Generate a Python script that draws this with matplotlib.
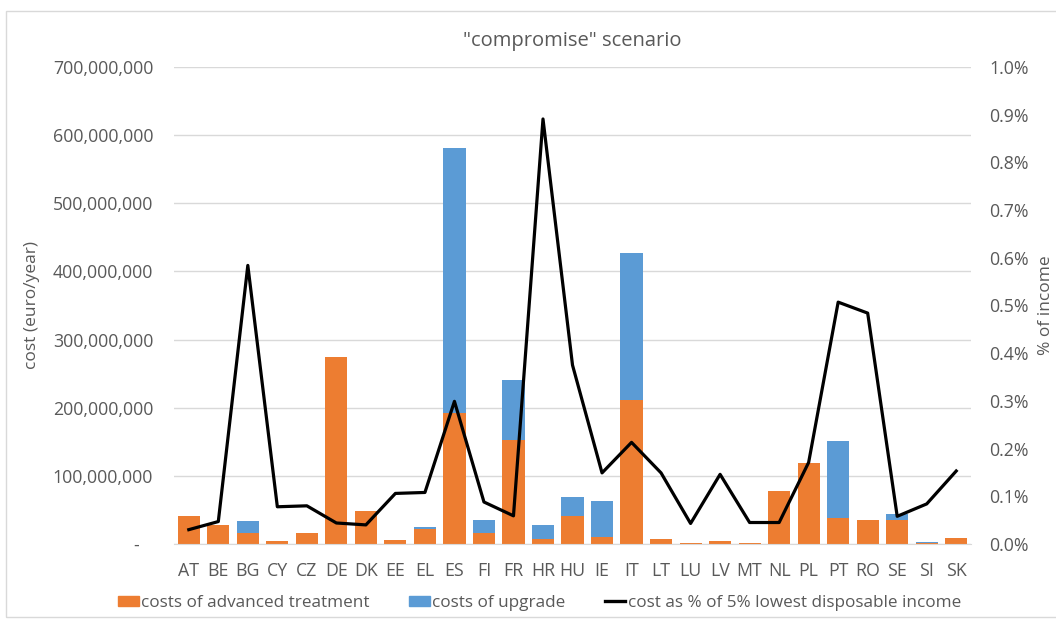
"""Stacked cost bars per country with income-share line, "compromise" scenario
"""

import numpy as np
import matplotlib
matplotlib.use('Agg')
import matplotlib.pyplot as plt
from matplotlib.patches import Patch, Rectangle
from matplotlib.lines import Line2D
from matplotlib.ticker import FuncFormatter, MultipleLocator

COUNTRIES = ['AT', 'BE', 'BG', 'CY', 'CZ', 'DE', 'DK', 'EE', 'EL', 'ES', 'FI', 'FR', 'HR', 'HU',
             'IE', 'IT', 'LT', 'LU', 'LV', 'MT', 'NL', 'PL', 'PT', 'RO', 'SE', 'SI', 'SK']
# costs in million euro/year
ADVANCED = [41, 28, 16.5, 4, 16.5, 274.5, 47.8, 5.4, 22.4, 192, 16, 152, 6.8, 40.5,
            10.2, 210.8, 6.8, 1.5, 3.9, 1.5, 78, 118.6, 37.6, 35.6, 34.7, 1.5, 8.8]
UPGRADE = [0, 0, 17.2, 0, 0, 0, 0, 0, 3, 389.7, 19, 88.5, 21, 27.9,
           52.3, 216.9, 0, 0, 0, 0, 0, 0, 114.2, 0, 9.2, 1.5, 0]
# cost as % of 5% lowest disposable income
INCOME_PCT = [0.030, 0.047, 0.584, 0.078, 0.080, 0.044, 0.040, 0.106, 0.108, 0.299, 0.088, 0.059,
              0.891, 0.375, 0.149, 0.213, 0.149, 0.043, 0.146, 0.045, 0.045, 0.171, 0.507, 0.484,
              0.058, 0.084, 0.153]

ORANGE = '#ED7D31'
BLUE = '#5B9BD5'
TEXT = '#595959'
GRID = '#D9D9D9'

plt.rcParams['font.family'] = ['Open Sans', 'DejaVu Sans']

x = np.arange(len(COUNTRIES))
adv = np.array(ADVANCED) * 1e6
upg = np.array(UPGRADE) * 1e6

fig = plt.figure(figsize=(10.56, 6.19), dpi=100)
fig.patches.append(Rectangle((0.006, 0.004), 0.996, 0.979, transform=fig.transFigure,
                             fill=False, edgecolor=GRID, linewidth=1.0))
ax = fig.add_axes([0.1648, 0.1212, 0.7547, 0.7706])

ax.bar(x, adv, width=0.75, color=ORANGE, zorder=2)
ax.bar(x, upg, width=0.75, bottom=adv, color=BLUE, zorder=2)

ax.set_xlim(-0.5, len(COUNTRIES) - 0.5)
ax.set_ylim(0, 700e6)
ax.yaxis.set_major_locator(MultipleLocator(100e6))
ax.yaxis.set_major_formatter(FuncFormatter(lambda v, p: '-   ' if v == 0 else f'{v:,.0f}'))
ax.grid(axis='y', color=GRID, linewidth=1.0, zorder=0)
ax.set_axisbelow(True)
ax.set_xticks(x)
ax.set_xticklabels(COUNTRIES)
for s in ['top', 'right', 'left']:
    ax.spines[s].set_visible(False)
ax.spines['bottom'].set_color(GRID)
ax.tick_params(axis='x', length=0, pad=13, labelsize=12.8, labelcolor=TEXT)
ax.tick_params(axis='y', length=0, pad=15, labelsize=12.8, labelcolor=TEXT)
ax.set_ylabel('cost (euro/year)', fontsize=12.5, color=TEXT, labelpad=9)
ax.set_title('"compromise" scenario', fontsize=14.5, color=TEXT, pad=15)

ax2 = ax.twinx()
ax2.plot(x, INCOME_PCT, color='black', linewidth=2.3, zorder=3)
ax2.set_ylim(0, 1.0)
ax2.yaxis.set_major_locator(MultipleLocator(0.1))
ax2.yaxis.set_major_formatter(FuncFormatter(lambda v, p: f'{v:.1f}%'))
for s in ax2.spines.values():
    s.set_visible(False)
ax2.tick_params(axis='y', length=0, pad=13, labelsize=12.8, labelcolor=TEXT)
ax2.set_ylabel('% of income', fontsize=12.5, color=TEXT, labelpad=7)

handles = [Patch(color=ORANGE), Patch(color=BLUE), Line2D([], [], color='black', linewidth=2.4)]
labels = ['costs of advanced treatment', 'costs of upgrade',
          'cost as % of 5% lowest disposable income']
fig.legend(handles, labels, loc='center', bbox_to_anchor=(0.511, 0.026), ncol=3,
           frameon=False, fontsize=12.3, labelcolor=TEXT, handlelength=1.2, handleheight=0.55,
           handletextpad=0.15, columnspacing=2.3)

fig.savefig('out.png', dpi=100)
